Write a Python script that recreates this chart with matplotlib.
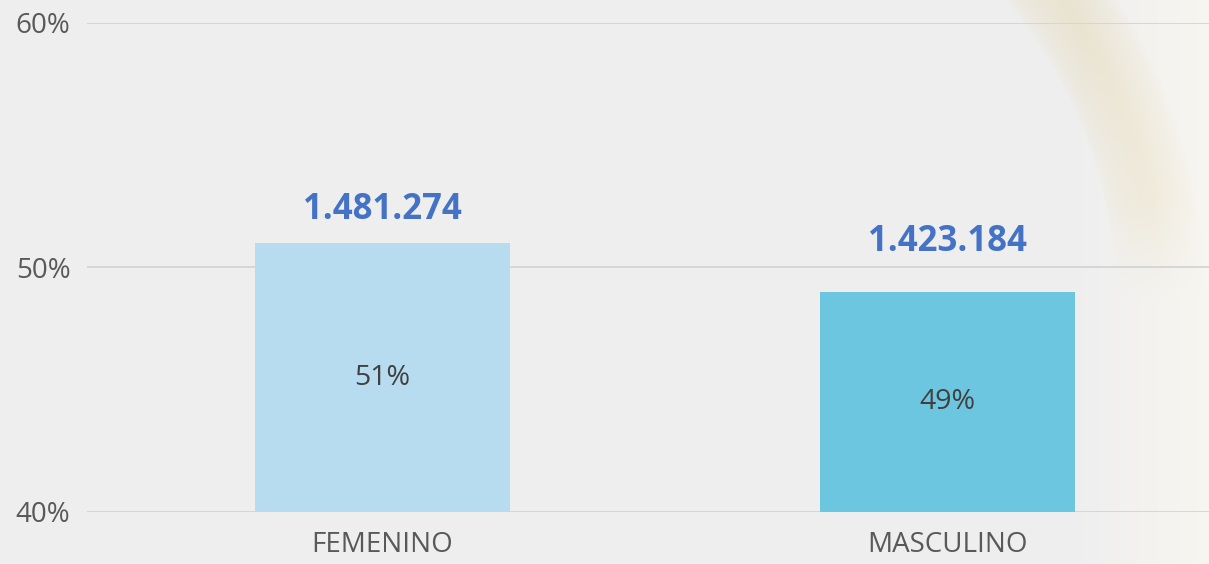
import matplotlib
matplotlib.use("Agg")
import matplotlib.pyplot as plt
import numpy as np

categories = ["FEMENINO", "MASCULINO"]
shares = [51.0, 49.0]                 # percent
share_labels = ["51%", "49%"]
totals = ["1.481.274", "1.423.184"]
yticks = [40, 50, 60]

bar_colors = ["#B7DCEF", "#6DC6DF"]
value_color = "#4472C4"
text_color = "#595959"
label_offsets_px = [33, 50]

plt.rcParams['font.family'] = ['Open Sans', 'DejaVu Sans']

W, H = 1209, 564
fig = plt.figure(figsize=(W / 100, H / 100), dpi=100)
fig.patch.set_facecolor("#efefef")

# faint decorative background: soft beige arc band + warm light right edge
bg = fig.add_axes([0, 0, 1, 1], zorder=-10)
bg.axis("off")
yy, xx = np.mgrid[0:H, 0:W].astype(float)
cx, cy = 650.0, 300.0
r = np.hypot(xx - cx, yy - cy)
ang = np.arctan2(cy - yy, xx - cx)          # radians, up is positive
band = np.clip(1 - np.abs(r - 510) / 45, 0, 1) ** 0.5
fade = np.clip(ang / 0.2, 0, 1)             # fade out towards horizontal
alpha_arc = 0.6 * band * fade * (xx > cx)
base = np.array([0.937, 0.937, 0.937])
beige = np.array([0.90, 0.86, 0.74])
warm = np.array([0.995, 0.985, 0.95])
edge = np.clip((xx - 1080) / 129, 0, 1) * 0.55
img = base[None, None, :] * (1 - alpha_arc[..., None]) + beige[None, None, :] * alpha_arc[..., None]
img = img * (1 - edge[..., None]) + warm[None, None, :] * edge[..., None]
bg.imshow(img, extent=[0, W, H, 0], aspect="auto", interpolation="bilinear")
bg.set_xlim(0, W); bg.set_ylim(H, 0)

ax = fig.add_axes([87 / W, 52 / H, (W - 87) / W, (512 - 23) / H])
ax.set_facecolor("none")
x = np.arange(len(categories))
ax.bar(x, shares, width=0.451, color=bar_colors, zorder=3)
ax.set_ylim(40, 60)
ax.set_xlim(-0.523, 1.463)
ax.set_yticks(yticks)
ax.set_yticklabels([f"{t}%" for t in yticks], fontsize=20, color=text_color)
ax.set_xticks(x)
ax.set_xticklabels(categories, fontsize=20, color=text_color)
ax.tick_params(axis="both", length=0)
ax.tick_params(axis="y", pad=12)
ax.tick_params(axis="x", pad=14)
ax.grid(axis="y", color="#d4d4d4", linewidth=1.3, zorder=1)
for s in ax.spines.values():
    s.set_visible(False)

for i in range(len(categories)):
    ax.text(x[i], (40 + shares[i]) / 2, share_labels[i], ha="center", va="center",
            fontsize=20.5, color="#404040", zorder=4)
    ax.annotate(totals[i], (x[i], shares[i]), xytext=(0, label_offsets_px[i] * 0.72),
                textcoords="offset points", ha="center", va="center",
                fontsize=25, fontweight="bold", color=value_color, zorder=4)

fig.savefig("out.png", dpi=100, facecolor=fig.get_facecolor())
